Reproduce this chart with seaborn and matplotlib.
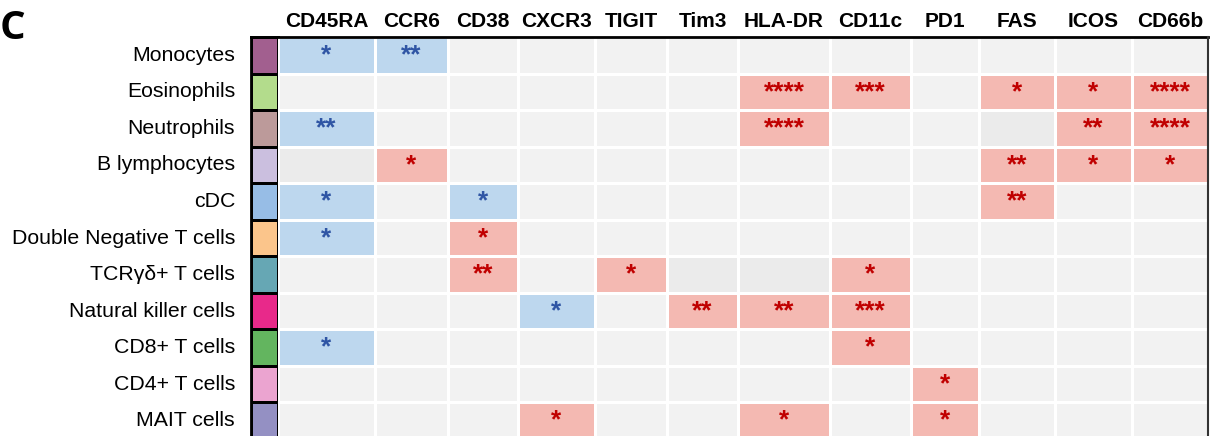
import numpy as np
import pandas as pd
import matplotlib
matplotlib.use("Agg")
import matplotlib.pyplot as plt
import seaborn as sns
from matplotlib.colors import ListedColormap
from matplotlib.lines import Line2D

# rows / row colour strip
cell_types = ["Monocytes", "Eosinophils", "Neutrophils", "B lymphocytes", "cDC",
              "Double Negative T cells", "TCRγδ+ T cells", "Natural killer cells",
              "CD8+ T cells", "CD4+ T cells", "MAIT cells"]
strip_colors = ["#a25f8f", "#b3dc8c", "#bc9a9a", "#cbbfdf", "#97bde6", "#fbc58b",
                "#66a7b4", "#e8298a", "#63b55f", "#eba4d0", "#9490c3"]

markers = ["CD45RA", "CCR6", "CD38", "CXCR3", "TIGIT", "Tim3", "HLA-DR", "CD11c",
           "PD1", "FAS", "ICOS", "CD66b"]

# -1 = decreased (blue), 1 = increased (red), 0 = ns, 2 = not tested (darker grey)
direction = [
    [-1, -1, 0, 0, 0, 0, 0, 0, 0, 0, 0, 0],
    [0, 0, 0, 0, 0, 0, 1, 1, 0, 1, 1, 1],
    [-1, 0, 0, 0, 0, 0, 1, 0, 0, 2, 1, 1],
    [2, 1, 0, 0, 0, 0, 0, 0, 0, 1, 1, 1],
    [-1, 0, -1, 0, 0, 0, 0, 0, 0, 1, 0, 0],
    [-1, 0, 1, 0, 0, 0, 0, 0, 0, 0, 0, 0],
    [0, 0, 1, 0, 1, 2, 2, 1, 0, 0, 0, 0],
    [0, 0, 0, -1, 0, 1, 1, 1, 0, 0, 0, 0],
    [-1, 0, 0, 0, 0, 0, 0, 1, 0, 0, 0, 0],
    [0, 0, 0, 0, 0, 0, 0, 0, 1, 0, 0, 0],
    [0, 0, 0, 1, 0, 0, 1, 0, 1, 0, 0, 0],
]
stars = [
    [1, 2, 0, 0, 0, 0, 0, 0, 0, 0, 0, 0],
    [0, 0, 0, 0, 0, 0, 4, 3, 0, 1, 1, 4],
    [2, 0, 0, 0, 0, 0, 4, 0, 0, 0, 2, 4],
    [0, 1, 0, 0, 0, 0, 0, 0, 0, 2, 1, 1],
    [1, 0, 1, 0, 0, 0, 0, 0, 0, 2, 0, 0],
    [1, 0, 1, 0, 0, 0, 0, 0, 0, 0, 0, 0],
    [0, 0, 2, 0, 1, 0, 0, 1, 0, 0, 0, 0],
    [0, 0, 0, 1, 0, 2, 2, 3, 0, 0, 0, 0],
    [1, 0, 0, 0, 0, 0, 0, 1, 0, 0, 0, 0],
    [0, 0, 0, 0, 0, 0, 0, 0, 1, 0, 0, 0],
    [0, 0, 0, 1, 0, 0, 1, 0, 1, 0, 0, 0],
]

# column edges in pixels (columns are not equally wide in the original)
col_edges = [278, 375, 448, 518, 595, 667, 738, 830, 911, 979, 1055, 1132, 1208]

W, H = 1210, 436
TOP, BOT = 37, 439

plt.rcParams["font.family"] = ["Liberation Sans", "DejaVu Sans"]

codes = pd.DataFrame(direction, index=cell_types, columns=markers)
annot = pd.DataFrame([["*" * n for n in r] for r in stars], index=cell_types, columns=markers)
cell_cmap = ListedColormap(["#bdd7ee", "#f2f2f2", "#f4b9b2", "#ebebeb"])

fig = plt.figure(figsize=(W / 100, H / 100), dpi=100)


def px_axes(x0, x1):
    return fig.add_axes([x0 / W, 1 - BOT / H, (x1 - x0) / W, (BOT - TOP) / H])


# colour strip with the row labels
ax_s = px_axes(251, 278)
strip = pd.DataFrame({"c": np.arange(len(cell_types))}, index=cell_types)
sns.heatmap(strip, ax=ax_s, cmap=ListedColormap(strip_colors), cbar=False,
            linewidths=2, linecolor="black", xticklabels=False, yticklabels=True)
ax_s.tick_params(axis="y", length=0, pad=11.5, labelsize=15.3, rotation=0)
ax_s.set_ylabel("")
for sp in ax_s.spines.values():
    sp.set_visible(True)
    sp.set_linewidth(2)

# one heatmap per marker so each column keeps its own width
for j, m in enumerate(markers):
    ax = px_axes(col_edges[j], col_edges[j + 1])
    sns.heatmap(codes[[m]], ax=ax, cmap=cell_cmap, vmin=-1.5, vmax=2.5, cbar=False,
                linewidths=2, linecolor="white", annot=annot[[m]].values, fmt="",
                annot_kws={"fontsize": 19, "fontweight": "bold"},
                xticklabels=True, yticklabels=False)
    for t, d in zip(ax.texts, codes[m]):
        t.set_color("#2f55a4" if d < 0 else "#c00000")
    ax.xaxis.tick_top()
    ax.tick_params(axis="x", length=0, pad=4.5, labelsize=15)
    for lab in ax.get_xticklabels():
        lab.set_fontweight("bold")
    ax.set_ylabel("")

# outline of the table
fig.add_artist(Line2D([251 / W, 1208 / W], [1 - TOP / H] * 2, color="black", lw=2))
fig.add_artist(Line2D([1208 / W] * 2, [1 - TOP / H, 0], color="#333333", lw=1.5))

fig.text(0.0, 1 - 9 / H, "C", fontsize=29, fontweight="bold", va="top", ha="left",
         family=["Open Sans", "DejaVu Sans"])

fig.savefig("out.png", dpi=100)
